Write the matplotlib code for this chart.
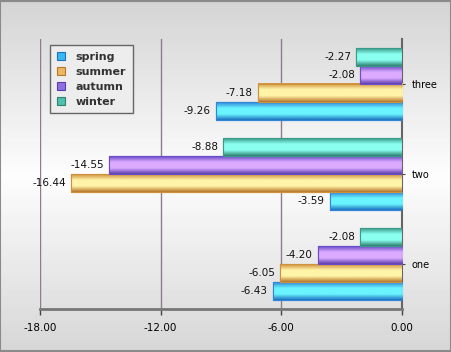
import numpy as np
import matplotlib
matplotlib.use("Agg")
import matplotlib.pyplot as plt
from matplotlib.colors import LinearSegmentedColormap
from matplotlib.patches import Patch, Rectangle

categories = ["one", "two", "three"]
series = ["spring", "summer", "autumn", "winter"]
spring = [-6.43, -3.59, -9.26]
summer = [-6.05, -16.44, -7.18]
autumn = [-4.20, -14.55, -2.08]
winter = [-2.08, -8.88, -2.27]
xticks = [-18, -12, -6, 0]

# edge / highlight colours for the cylinder look
shades = {
    "spring": ("#2f86d6", "#6af4ff", "#1f72c0"),
    "summer": ("#d0913c", "#fff4a8", "#b8762a"),
    "autumn": ("#6a4cc8", "#dcaaff", "#5a3cb0"),
    "winter": ("#3a9a88", "#8afff0", "#2f8272"),
}
# legend swatch colours
swatch = {"spring": "#38b8f0", "summer": "#eab860", "autumn": "#9070e0", "winter": "#50c0b0"}

fig = plt.figure(figsize=(4.52, 3.52), dpi=100)

# figure background gradient
bg = fig.add_axes([0, 0, 1, 1], zorder=-10)
g = np.concatenate([np.linspace(0.83, 0.99, 50), np.linspace(0.99, 0.84, 50)])[:, None]
bg.imshow(g, cmap="gray", vmin=0, vmax=1, aspect="auto", extent=(0, 1, 0, 1))
bg.add_patch(Rectangle((0.001, 0.002), 0.997, 0.995, fill=False, ec="#8a8a8a", lw=1.5,
                       transform=bg.transAxes))
bg.set_xlim(0, 1)
bg.set_ylim(0, 1)
bg.axis("off")

ax = fig.add_axes([40 / 452, 43 / 352, 362 / 452, 270 / 352])
ax.patch.set_alpha(0)

values = [spring, summer, autumn, winter]
h = 0.2
offsets = [-0.3, -0.1, 0.1, 0.3]
y = np.arange(len(categories))

for name, vals, off in zip(series, values, offsets):
    c0, c1, c2 = shades[name]
    cmap = LinearSegmentedColormap.from_list(name, [c2, c1, c1, c0])
    bars = ax.barh(y + off, vals, height=h, color=c1, edgecolor=c0, lw=0.8, zorder=3)
    grad = np.linspace(0, 1, 64)[:, None]
    for b, v in zip(bars, vals):
        x0, y0 = b.get_x(), b.get_y()
        w, hh = b.get_width(), b.get_height()
        ax.imshow(grad, cmap=cmap, aspect="auto", origin="lower",
                  extent=(x0, x0 + w, y0, y0 + hh), zorder=3.5)
        ax.add_patch(Rectangle((x0, y0), w, hh, fill=False, ec=c0, lw=0.8, zorder=4))
        ax.text(v - 0.25, b.get_y() + hh / 2, f"{v:.2f}", ha="right", va="center",
                fontsize=7.5, color="#111", zorder=5)

ax.set_xlim(-18, 0)
ax.set_ylim(-0.5, 2.5)
ax.set_xticks(xticks)
ax.set_xticklabels([f"{t:.2f}" for t in xticks], fontsize=7.5)
ax.set_yticks(y)
ax.set_yticklabels(categories, fontsize=7)
ax.yaxis.tick_right()
ax.tick_params(axis="y", length=2, pad=5, color="#444")
ax.tick_params(axis="x", length=4, width=1, pad=6, color="#444")

ax.grid(axis="x", color="#8c7c8c", lw=1, zorder=1)
for s in ["left", "top"]:
    ax.spines[s].set_visible(False)
ax.spines["right"].set_color("#666")
ax.spines["right"].set_linewidth(1.5)
ax.spines["bottom"].set_color("#777")
ax.spines["bottom"].set_linewidth(2)

handles = [Patch(facecolor=swatch[n], edgecolor=shades[n][2], lw=0.8) for n in series]
leg = ax.legend(handles, series, loc="upper left", bbox_to_anchor=(0.028, 0.978),
                borderaxespad=0, fancybox=False, frameon=True, handlelength=0.7,
                handleheight=0.7, handletextpad=1.0, labelspacing=0.45,
                prop={"weight": "bold", "size": 8}, borderpad=0.6)
leg.get_frame().set_edgecolor("#666")
leg.get_frame().set_facecolor("#ededed")
leg.get_frame().set_linewidth(1)
leg.get_frame().set_alpha(1)
for t in leg.get_texts():
    t.set_color("#333")
leg.set_zorder(6)

fig.savefig("out.png", dpi=100)
